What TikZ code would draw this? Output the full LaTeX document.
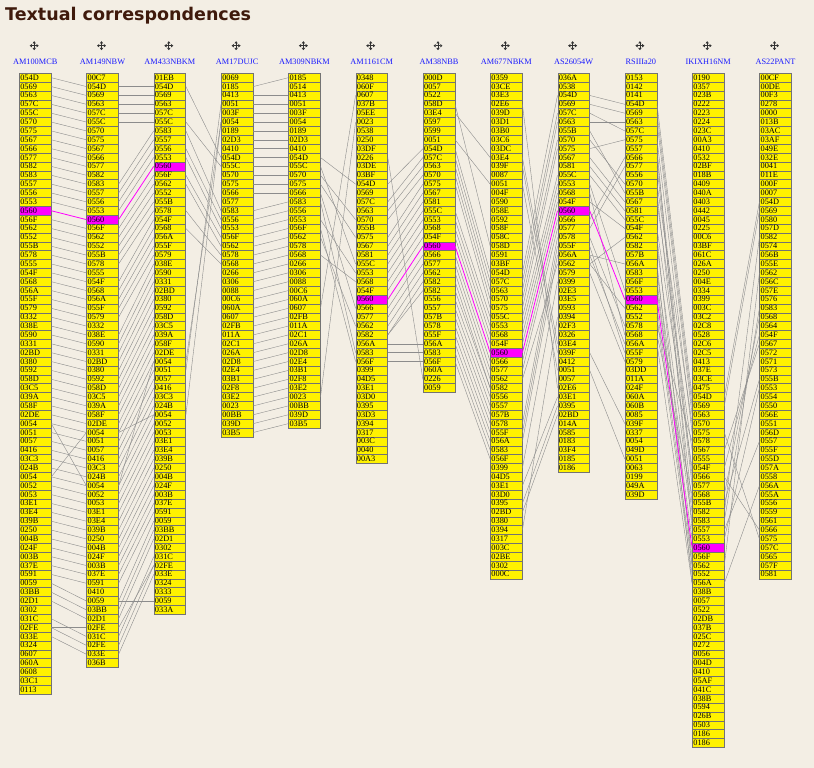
\documentclass[tikz,border=0pt]{standalone}
\usepackage{fontspec}
\setmainfont{Liberation Serif}
\newfontfamily\titlefont{DejaVu Sans}
\usetikzlibrary{arrows.meta}
\definecolor{paper}{HTML}{F3EEE4}
\definecolor{titlebrown}{HTML}{3F1A0C}
\definecolor{witblue}{HTML}{1A1AFF}
\definecolor{hilite}{HTML}{FF00FF}
\def\hilab{0560}
\newcommand\witness[3]{\expandafter\def\csname wname#1\endcsname{#2}\expandafter\def\csname wcells#1\endcsname{#3}}
\witness{1}{AM100MCB}{054D,0569,0563,057C,055C,0570,0575,0567,0566,0577,0582,0583,0557,0556,0553,0560,056F,0562,0552,055B,0578,0555,054F,0568,056A,055F,0579,0332,038E,0590,0331,02BD,0380,0592,058D,03C5,039A,058F,02DE,0054,0051,0057,0416,03C3,024B,0054,0052,0053,03E1,03E4,039B,0250,004B,024F,003B,037E,0591,0059,03BB,02D1,0302,031C,02FE,033E,0324,0607,060A,0608,03C1,0113}
\witness{2}{AM149NBW}{00C7,054D,0569,0563,057C,055C,0570,0575,0567,0566,0577,0582,0583,0557,0556,0553,0560,056F,0562,0552,055B,0578,0555,054F,0568,056A,055F,0579,0332,038E,0590,0331,02BD,0380,0592,058D,03C5,039A,058F,02DE,0054,0051,0057,0416,03C3,024B,0054,0052,0053,03E1,03E4,039B,0250,004B,024F,003B,037E,0591,0410,0059,03BB,02D1,02FE,031C,02FE,033E,036B}
\witness{3}{AM433NBKM}{01EB,054D,0569,0563,057C,055C,0583,0557,0556,0553,0560,056F,0562,0552,055B,0578,054F,0568,056A,055F,0579,038E,0590,0331,02BD,0380,0592,058D,03C5,039A,058F,02DE,0054,0051,0057,0416,03C3,024B,0054,0052,0053,03E1,03E4,039B,0250,004B,024F,003B,037E,0591,0059,03BB,02D1,0302,031C,02FE,033E,0324,0333,0059,033A}
\witness{4}{AM17DUJC}{0069,0185,0413,0051,003F,0054,0189,02D3,0410,054D,055C,0570,0575,0566,0577,0583,0556,0553,056F,0562,0578,0568,0266,0306,0088,00C6,060A,0607,02FB,011A,02C1,026A,02D8,02E4,03B1,02F8,03E2,0023,00BB,039D,03B5}
\witness{5}{AM309NBKM}{0185,0514,0413,0051,003F,0054,0189,02D3,0410,054D,055C,0570,0575,0566,0583,0556,0553,056F,0562,0578,0568,0266,0306,0088,00C6,060A,0607,02FB,011A,02C1,026A,02D8,02E4,03B1,02F8,03E2,0023,00BB,039D,03B5}
\witness{6}{AM1161CM}{0348,060F,0607,037B,05EE,0023,0538,0250,03DF,0226,03DE,03BF,054D,0569,057C,0563,0570,055B,0575,0567,0581,055C,0553,0568,054F,0560,0566,0577,0562,0582,056A,0583,056F,0399,04D5,03E1,03D0,0395,03D3,0394,0317,003C,0040,00A3}
\witness{7}{AM38NBB}{000D,0057,0522,058D,03E4,0597,0599,0051,054D,057C,0563,0570,0575,0567,0581,055C,0553,0568,054F,0560,0566,0577,0562,0582,0582,0556,0557,057B,0578,055F,056A,0583,056F,060A,0226,0059}
\witness{8}{AM677NBKM}{0359,03CE,03E3,02E6,039D,03D1,03B0,03C6,03DC,03E4,039F,0087,0051,004F,0590,058E,0592,058F,058C,058D,0591,03BF,054D,057C,0563,0570,0575,055C,0553,0568,054F,0560,0566,0577,0562,0582,0556,0557,057B,0578,055F,056A,0583,056F,0399,04D5,03E1,03D0,0395,02BD,0380,0394,0317,003C,02BE,0302,000C}
\witness{9}{AS26054W}{036A,0538,054D,0569,057C,0563,055B,0570,0575,0567,0581,055C,0553,0568,054F,0560,0566,0577,0578,055F,056A,0562,0579,0399,02E3,03E5,0593,0394,02F3,0326,03E4,039F,0412,0051,0057,02E6,03E1,0395,02BD,014A,0585,0183,03F4,0185,0186}
\witness{10}{RSIIIa20}{0153,0142,0141,054D,0569,0563,057C,0575,0557,0566,0577,0556,0570,055B,0567,0581,055C,054F,0562,0582,057B,056A,0583,056F,0553,0560,0562,0552,0578,0568,056A,055F,0579,03DD,011A,024F,060A,060B,0085,039F,0337,0054,049D,0051,0063,0199,049A,039D}
\witness{11}{IKIXH16NM}{0190,0357,023B,0222,0223,0224,023C,00A3,0410,0532,02BF,018B,0409,040A,0403,0442,0045,0225,00C6,03BF,061C,026A,0250,004E,0334,0399,003C,03C2,02C8,0528,02C6,02C5,0413,037E,03CE,0475,054D,0569,0563,0570,0575,0578,0567,0555,054F,0566,0577,0568,055B,0582,0583,0557,0553,0560,056F,0562,0552,056A,038B,0057,0522,02DB,037B,025C,0272,0056,004D,0410,05AF,041C,038B,0594,026B,0503,0186,0186}
\witness{12}{AS22PANT}{00CF,00DE,00F3,0278,0000,013B,03AC,03AF,049E,032E,0041,011E,000F,0007,054D,0569,0580,057D,0582,0574,056B,055E,0562,056C,057E,0576,0583,0568,0564,054F,0567,0572,0571,0573,055B,0553,0554,0550,056E,0551,056D,0557,055F,055D,057A,0558,056A,055A,0556,0559,0561,0566,0575,057C,0565,057F,0581}

\begin{document}
\begin{tikzpicture}[x=1pt, y=1pt, >={Triangle[length=2.2pt,width=3.2pt]},
	glyph/.style={draw=black!55, line width=0.5pt, fill=yellow, minimum width=31.7pt, minimum height=8.87pt, inner xsep=1pt, inner ysep=0pt, text width=29.7pt, text height=5.6pt, text depth=0.6pt, font=\fontsize{8.3}{9}\selectfont},
	higlyph/.style={glyph, fill=hilite},
	corr/.style={black!45, line width=0.4pt},
	hicorr/.style={hilite, line width=0.8pt},
	witname/.style={witblue, inner sep=0pt, anchor=base, font=\fontsize{8.3}{9}\selectfont},
	mover/.style={<->, black!80, line width=0.7pt}]
	\fill[paper] (0,0) rectangle (814,-768);
	\useasboundingbox (0,0) rectangle (814,-768);
	\node[anchor=base west, inner sep=0pt, titlebrown, font=\titlefont\bfseries\fontsize{17.5}{20}\selectfont] (title) at (5,-20.7) {Textual correspondences};
	\foreach \c in {1,...,12} {
		\pgfmathsetmacro\colx{35.2+(\c-1)*67.3}
		\node[witname] (w\c) at (\colx,-64) {\csname wname\c\endcsname};
		\coordinate (m\c) at (\colx-1,-45.7);
		\draw[mover] ([xshift=-4.5pt]m\c) -- ([xshift=4.5pt]m\c);
		\draw[mover] ([yshift=-4.5pt]m\c) -- ([yshift=4.5pt]m\c);
		\edef\cells{\csname wcells\c\endcsname}
		\foreach \lab [count=\i] in \cells {
			\def\glyphstyle{glyph}\edef\thislab{\lab}
			\ifx\thislab\hilab\def\glyphstyle{higlyph}\fi
			\node[\glyphstyle] (c\c-\i) at (\colx,{-77.7-(\i-1)*8.87}) {\lab};
			\expandafter\ifx\csname pos\c-\lab\endcsname\relax
				\expandafter\xdef\csname pos\c-\lab\endcsname{\i}%
			\else
				\expandafter\xdef\csname pos\c-\lab\endcsname{\csname pos\c-\lab\endcsname,\i}%
			\fi
		}
	}
	\foreach \c [evaluate=\c as \d using int(\c+1)] in {1,...,11} {
		\edef\cells{\csname wcells\c\endcsname}
		\foreach \lab [count=\i] in \cells {
			\expandafter\ifx\csname pos\d-\lab\endcsname\relax\else
				\edef\targets{\csname pos\d-\lab\endcsname}
				\def\corrstyle{corr}\edef\thislab{\lab}
				\ifx\thislab\hilab\def\corrstyle{hicorr}\fi
				\foreach \j in \targets {\draw[\corrstyle] (c\c-\i.east) -- (c\d-\j.west);}
			\fi
		}
	}
\end{tikzpicture}
\end{document}
